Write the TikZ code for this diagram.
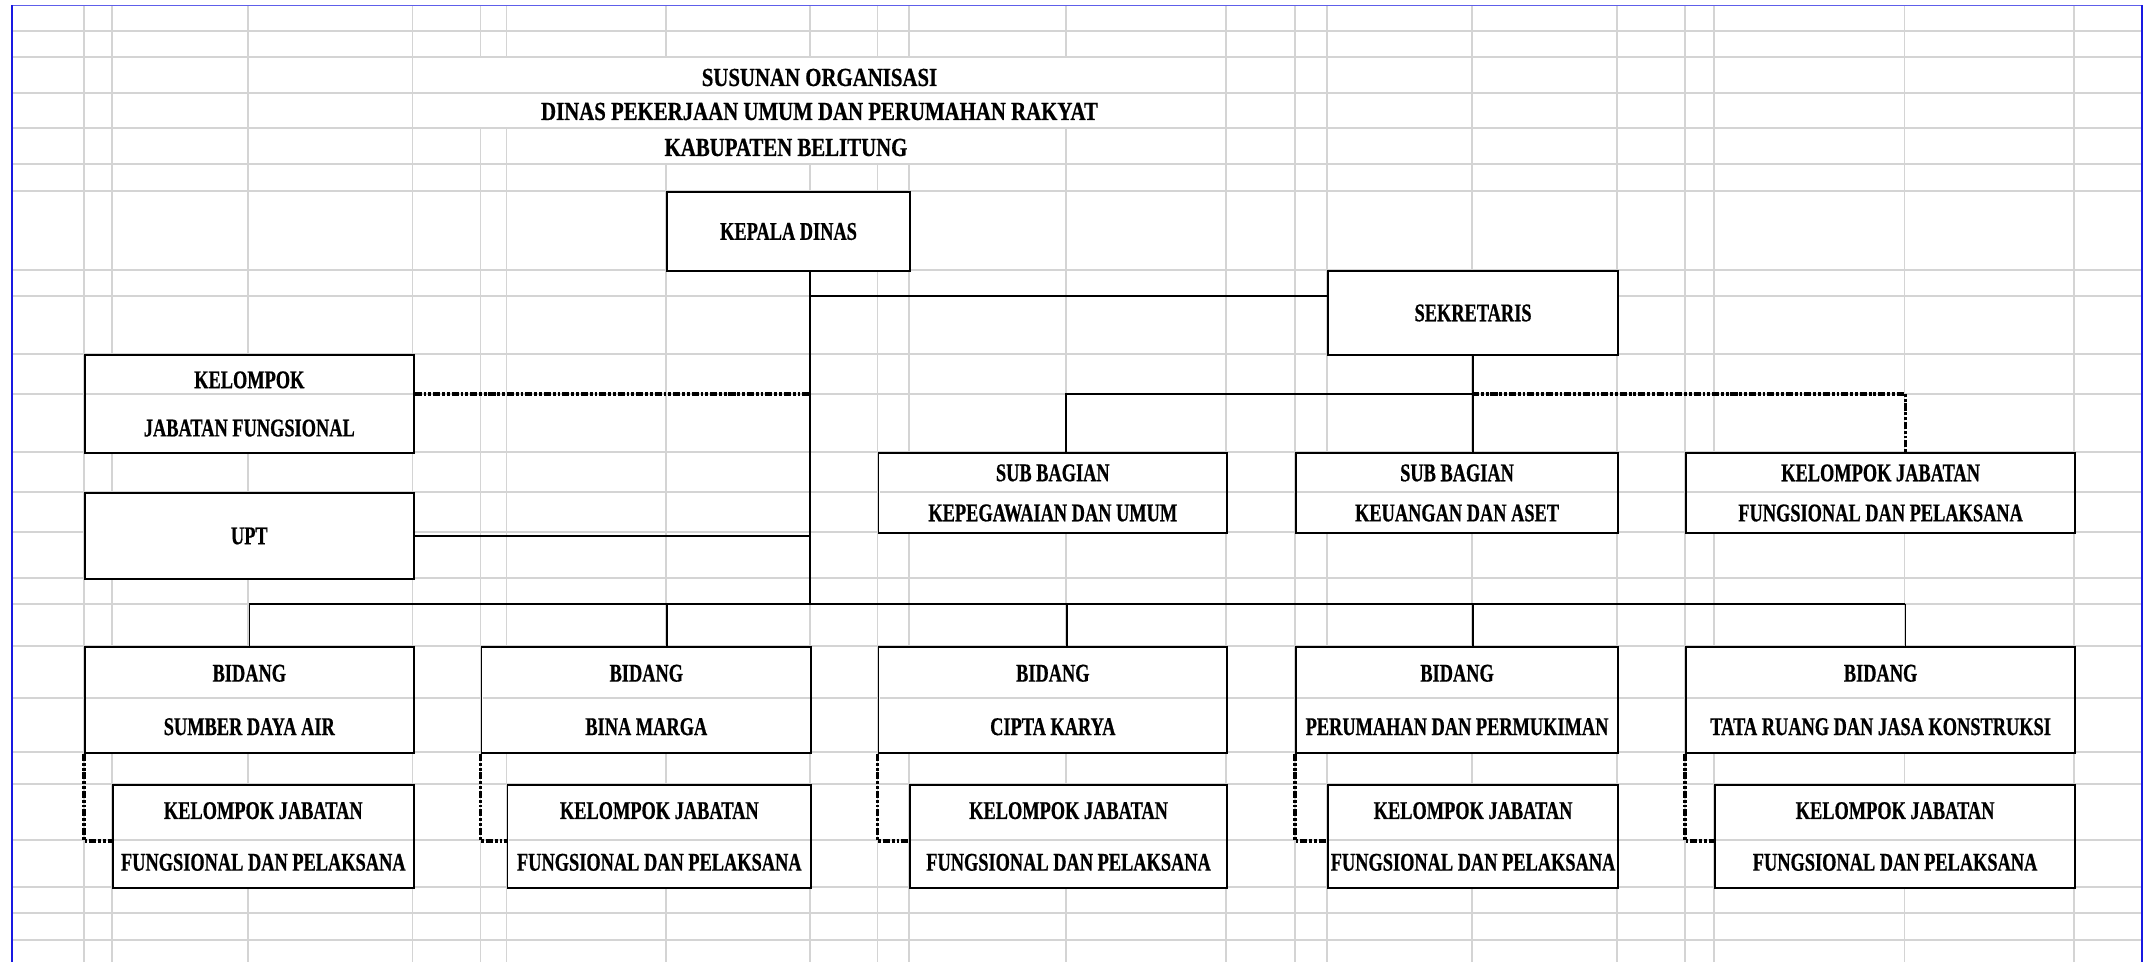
\documentclass[tikz,border=0pt]{standalone}
\usepackage{fontspec}
\setmainfont{Liberation Serif}
\newfontfamily\boxfont{Liberation Serif}[FakeStretch=0.72, FakeBold=0.6]
\newfontfamily\headfont{Liberation Serif}[FakeStretch=0.80, FakeBold=0.6]
\definecolor{gridgrey}{RGB}{212,212,212}
\definecolor{sheetblue}{RGB}{25,25,225}
\tikzset{
	cellbox/.style = {draw, line width = 0.55pt, fill = white, inner sep = 0pt, anchor = north west,
		align = center, font = \boxfont\bfseries\fontsize{7.25}{#1}\selectfont},
	cellbox/.default = 9pt,
	headline/.style = {anchor = base, inner sep = 0pt, font = \headfont\bfseries\fontsize{7.4}{9}\selectfont},
	gridln/.style = {draw = gridgrey, line width = 0.38pt},
	rowln/.style = {gridln, shorten <= 0.6pt, shorten >= 0.6pt},
	link/.style = {line width = 0.45pt},
	dashlink/.style = {line width = 0.9pt, dash pattern = on 2pt off 0.55pt on 0.8pt off 0.55pt on 0.8pt off 0.55pt}
}
\begin{document}
\begin{tikzpicture}[x = 0.01cm, y = -0.01cm]
		\useasboundingbox (0, 0) rectangle (2143, 962);
		\fill[white] (0, 0) rectangle (2143, 962);
		%%%%%%%%%%%%%
		% sheet grid
		\foreach \gy in {31, 57, 93, 128, 164, 191, 270, 296, 354, 394, 452, 492, 532, 578, 604, 646, 698, 752, 784, 840, 887, 913, 940}
			\draw[gridln] (12, \gy) -- (2141, \gy);
		\foreach \gx in {84, 112, 248, 412.5, 480.5, 506.5, 666, 810, 877.5, 909, 1066, 1226, 1295, 1327, 1472, 1617, 1685, 1714, 1904.5, 2074}
			\draw[gridln] (\gx, 5.5) -- (\gx, 962);
		\fill[white] (413.2, 57.7) rectangle (1225.3, 92.3);
		\fill[white] (413.2, 93.7) rectangle (1225.3, 127.3);
		\fill[white] (507.2, 128.7) rectangle (1065.3, 163.3);
		\draw[sheetblue!70, line width = 0.5pt] (11, 5.5) -- (2143, 5.5);
		\draw[sheetblue, line width = 0.5pt] (12, 5.5) -- (12, 962);
		\draw[sheetblue, line width = 0.6pt] (2142, 5.5) -- (2142, 962);
		%%%%%%%%%%%%%
		\node[headline] (title1) at (819.5, 86) {SUSUNAN ORGANISASI};
		\node[headline] (title2) at (819.5, 120) {DINAS PEKERJAAN UMUM DAN PERUMAHAN RAKYAT};
		\node[headline] (title3) at (786, 156) {KABUPATEN BELITUNG};
		%%%%%%%%%%%%%
		\coordinate (topjn) at (810, 296);
		\coordinate (midjn) at (810, 394);
		\coordinate (bus) at (810, 604);
		\coordinate (busend) at (1904.5, 604);
		\coordinate (sekjn) at (1472, 394);
		\coordinate (subjn) at (1066, 394);
		\coordinate (rowsub) at (0, 492);
		\coordinate (rowbid) at (0, 698);
		\coordinate (rowkj) at (0, 840);
		%%%%%%%%%%%%%
		\node[cellbox, minimum width = 2.43cm, minimum height = 0.79cm] (kadis) at (666, 191) {KEPALA DINAS};
		\node[cellbox, minimum width = 2.90cm, minimum height = 0.84cm] (sek) at (1327, 270) {SEKRETARIS};
		\node[cellbox = 13.7pt, minimum width = 3.285cm, minimum height = 0.98cm] (kjf) at (84, 354) {KELOMPOK\\JABATAN FUNGSIONAL};
		\node[cellbox, minimum width = 3.285cm, minimum height = 0.86cm] (upt) at (84, 492) {UPT};
		\node[cellbox = 11.4pt, minimum width = 3.485cm, minimum height = 0.80cm] (sbk) at (877.5, 452) {SUB BAGIAN\\KEPEGAWAIAN DAN UMUM};
		\node[cellbox = 11.4pt, minimum width = 3.22cm, minimum height = 0.80cm] (sbu) at (1295, 452) {SUB BAGIAN\\KEUANGAN DAN ASET};
		\node[cellbox = 11.4pt, minimum width = 3.89cm, minimum height = 0.80cm] (kjs) at (1685, 452) {KELOMPOK JABATAN\\FUNGSIONAL DAN PELAKSANA};
		%%%%%%%%%%%%%
		\node[cellbox = 15.2pt, minimum width = 3.285cm, minimum height = 1.06cm] (bid1) at (84, 646) {BIDANG\\SUMBER DAYA AIR};
		\node[cellbox = 15.2pt, minimum width = 3.295cm, minimum height = 1.06cm] (bid2) at (480.5, 646) {BIDANG\\BINA MARGA};
		\node[cellbox = 15.2pt, minimum width = 3.485cm, minimum height = 1.06cm] (bid3) at (877.5, 646) {BIDANG\\CIPTA KARYA};
		\node[cellbox = 15.2pt, minimum width = 3.22cm, minimum height = 1.06cm] (bid4) at (1295, 646) {BIDANG\\PERUMAHAN DAN PERMUKIMAN};
		\node[cellbox = 15.2pt, minimum width = 3.89cm, minimum height = 1.06cm] (bid5) at (1685, 646) {BIDANG\\TATA RUANG DAN JASA KONSTRUKSI};
		\node[cellbox = 14.7pt, minimum width = 3.005cm, minimum height = 1.03cm] (kj1) at (112, 784) {KELOMPOK JABATAN\\FUNGSIONAL DAN PELAKSANA};
		\node[cellbox = 14.7pt, minimum width = 3.035cm, minimum height = 1.03cm] (kj2) at (506.5, 784) {KELOMPOK JABATAN\\FUNGSIONAL DAN PELAKSANA};
		\node[cellbox = 14.7pt, minimum width = 3.17cm, minimum height = 1.03cm] (kj3) at (909, 784) {KELOMPOK JABATAN\\FUNGSIONAL DAN PELAKSANA};
		\node[cellbox = 14.7pt, minimum width = 2.90cm, minimum height = 1.03cm] (kj4) at (1327, 784) {KELOMPOK JABATAN\\FUNGSIONAL DAN PELAKSANA};
		\node[cellbox = 14.7pt, minimum width = 3.60cm, minimum height = 1.03cm] (kj5) at (1714, 784) {KELOMPOK JABATAN\\FUNGSIONAL DAN PELAKSANA};
		%%%%%%%%%%%%%
		\draw[link] (kadis.south -| bus) -- (bus);
		\draw[link] (topjn) -- (topjn -| sek.west);
		\draw[dashlink] (midjn -| kjf.east) -- (midjn);
		\draw[link] (upt.east) -- (upt.east -| bus);
		\draw[link] (bid1.north |- bus) -- (busend);
		\foreach \b/\dx in {bid1/0, bid2/0.2075, bid3/0.1425, bid4/0.16, bid5/0.25}
			\draw[link] ([xshift = \dx cm]\b.north |- bus) -- ([xshift = \dx cm]\b.north);
		\draw[link] (sek.south) -- (sek.south |- sbu.north);
		\draw[link] (sekjn) -- (subjn) -- (subjn |- sbk.north);
		\draw[dashlink] (sekjn) -| ([xshift = 0.25cm]kjs.north);
		\foreach \i in {1, ..., 5}
			\draw[dashlink] (bid\i.south west) |- ([yshift = -0.045cm]kj\i.west);
		%%%%%%%%%%%%%
		% row lines showing through the two-row cells
		\draw[rowln] (kjf.west |- midjn) -- (kjf.east |- midjn);
		\foreach \b in {sbk, sbu, kjs}
			\draw[rowln] (\b.west |- rowsub) -- (\b.east |- rowsub);
		\foreach \i in {1, ..., 5} {
			\draw[rowln] (bid\i.west |- rowbid) -- (bid\i.east |- rowbid);
			\draw[rowln] (kj\i.west |- rowkj) -- (kj\i.east |- rowkj);
		}
		%%%%%%%%%%%%%%
\end{tikzpicture}
\end{document}
